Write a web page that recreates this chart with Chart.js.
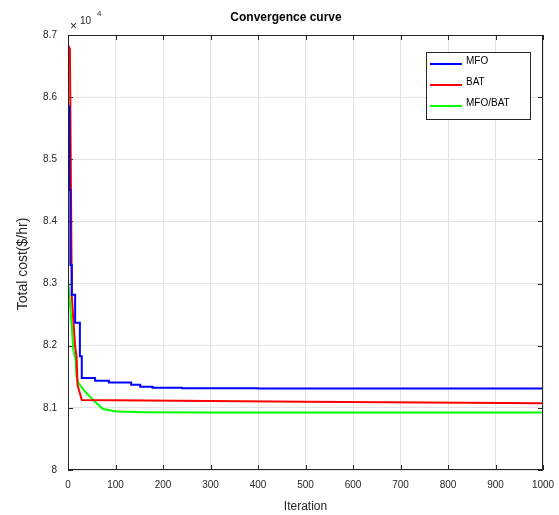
<!DOCTYPE html>
<html>
<head>
<meta charset="utf-8">
<script src="https://cdn.jsdelivr.net/npm/chart.js@4.4.1/dist/chart.umd.min.js"></script>
<style>
  html, body { margin: 0; padding: 0; background: #fff; }
  #wrap { width: 559px; height: 515px; }
</style>
</head>
<body>
<div id="wrap"><canvas id="conv" width="559" height="515"></canvas></div>
<script>
// Data (costs in units of 10^4 $/hr)
const mfoIter  = [0, 3, 5, 8, 15, 25, 29, 57, 86, 133, 152, 178, 240, 400, 1000];
const mfoCost  = [8.585, 8.45, 8.33, 8.282, 8.237, 8.183, 8.148, 8.1435, 8.141, 8.137, 8.134, 8.1325, 8.1315, 8.131, 8.131];

const batIter  = [0, 4, 8, 15, 18, 20, 29, 500, 1000];
const batCost  = [8.684, 8.678, 8.28, 8.199, 8.183, 8.137, 8.1125, 8.110, 8.1075];

const hybIter  = [0, 8, 11, 16, 18, 22, 36, 46, 60, 74, 102, 160, 300, 1000];
const hybCost  = [8.3075, 8.231, 8.194, 8.177, 8.15, 8.140, 8.126, 8.118, 8.1075, 8.098, 8.094, 8.093, 8.0925, 8.0925];

const xTicks = [0, 100, 200, 300, 400, 500, 600, 700, 800, 900, 1000];
const yTickLabels = ['8', '8.1', '8.2', '8.3', '8.4', '8.5', '8.6', '8.7'];
const exponentLabel = '4';
const titleText = 'Convergence curve';
const yTitle = 'Total cost($/hr)';

const FONT = "'Liberation Sans', Arial, sans-serif";
const AXIS = '#262626';

function toPoints(xs, ys) {
    return xs.map((x, i) => ({ x: x, y: ys[i] }));
}

// MATLAB-like box, inward ticks, titles, exponent and legend
const matlabAxes = {
    id: 'matlabAxes',
    beforeDatasetsDraw(chart) {
        const { ctx, chartArea: a, scales: { x, y } } = chart;
        ctx.save();
        ctx.strokeStyle = AXIS;
        ctx.lineWidth = 1;
        ctx.beginPath();
        xTicks.forEach(v => {
            const px = Math.round(x.getPixelForValue(v)) + 0.5;
            ctx.moveTo(px, a.bottom); ctx.lineTo(px, a.bottom - 5);
            ctx.moveTo(px, a.top); ctx.lineTo(px, a.top + 5);
        });
        yTickLabels.forEach((l, i) => {
            const py = Math.round(y.getPixelForValue(8 + i * 0.1)) + 0.5;
            ctx.moveTo(a.left, py); ctx.lineTo(a.left + 5, py);
            ctx.moveTo(a.right, py); ctx.lineTo(a.right - 5, py);
        });
        ctx.stroke();
        ctx.restore();
    },
    afterDatasetsDraw(chart) {
        const { ctx, chartArea: a } = chart;
        ctx.save();
        ctx.strokeStyle = AXIS;
        ctx.lineWidth = 1;
        ctx.strokeRect(Math.round(a.left) + 0.5, Math.round(a.top) + 0.5,
                       Math.round(a.right - a.left) - 1, Math.round(a.bottom - a.top) - 1);

        // title
        ctx.fillStyle = '#000';
        ctx.textBaseline = 'middle';
        ctx.textAlign = 'center';
        ctx.font = 'bold 12px ' + FONT;
        ctx.fillText(titleText, 286, 18);

        // y title
        ctx.save();
        ctx.fillStyle = AXIS;
        ctx.font = '14px ' + FONT;
        ctx.translate(23, 264);
        ctx.rotate(-Math.PI / 2);
        ctx.fillText(yTitle, 0, 0);
        ctx.restore();

        // x10^4
        ctx.fillStyle = AXIS;
        ctx.textAlign = 'left';
        ctx.font = '12px ' + FONT;
        ctx.fillText('\u00d7', a.left + 2, a.top - 8);
        ctx.font = '10px ' + FONT;
        ctx.fillText('10', a.left + 12, a.top - 14);
        ctx.font = '8px ' + FONT;
        ctx.fillText(exponentLabel, a.left + 29, a.top - 21);

        // legend
        const bx = 426, by = 52, bw = 104, bh = 67;
        ctx.fillStyle = '#fff';
        ctx.fillRect(bx, by, bw, bh);
        ctx.strokeStyle = AXIS;
        ctx.strokeRect(bx + 0.5, by + 0.5, bw, bh);
        ctx.font = '10px ' + FONT;
        chart.data.datasets.forEach((ds, i) => {
            const ly = by + 12 + i * 21;
            ctx.strokeStyle = ds.borderColor;
            ctx.lineWidth = 2;
            ctx.beginPath();
            ctx.moveTo(bx + 4, ly); ctx.lineTo(bx + 36, ly);
            ctx.stroke();
            ctx.fillStyle = '#000';
            ctx.fillText(ds.label, bx + 40, ly - 3);
        });
        ctx.restore();
    }
};

const chart = new Chart(document.getElementById('conv'), {
    type: 'line',
    data: {
        datasets: [
            { label: 'MFO', data: toPoints(mfoIter, mfoCost), borderColor: '#0000ff', stepped: 'before' },
            { label: 'BAT', data: toPoints(batIter, batCost), borderColor: '#ff0000' },
            { label: 'MFO/BAT', data: toPoints(hybIter, hybCost), borderColor: '#00ff00' }
        ]
    },
    options: {
        responsive: false,
        animation: false,
        devicePixelRatio: 1,
        layout: { padding: { left: 0, right: 16, top: 35, bottom: 0 } },
        elements: {
            line: { borderWidth: 2, tension: 0 },
            point: { radius: 0 }
        },
        plugins: {
            legend: { display: false },
            tooltip: { enabled: false },
            title: { display: false }
        },
        scales: {
            x: {
                type: 'linear',
                min: 0, max: 1000,
                afterBuildTicks: s => { s.ticks = xTicks.map(v => ({ value: v })); },
                afterFit: s => { s.height = 45; s.paddingLeft = 0; s.paddingRight = 0; },
                grid: { color: '#e3e3e3', drawTicks: false },
                border: { display: false },
                ticks: { padding: 9, color: AXIS, font: { family: FONT, size: 10 }, maxRotation: 0,
                         callback: (v, i) => String(xTicks[i]) },
                title: { display: true, text: 'Iteration', color: AXIS,
                         font: { family: FONT, size: 12 }, padding: { top: 0, bottom: 1 } }
            },
            y: {
                min: 8, max: 8.7,
                afterBuildTicks: s => { s.ticks = yTickLabels.map((l, i) => ({ value: 8 + i * 0.1 })); },
                afterFit: s => { s.width = 68; },
                grid: { color: '#e3e3e3', drawTicks: false },
                border: { display: false },
                ticks: { padding: 11, color: AXIS, font: { family: FONT, size: 10 },
                         callback: (v, i) => yTickLabels[i] }
            }
        }
    },
    plugins: [matlabAxes]
});
</script>
</body>
</html>
